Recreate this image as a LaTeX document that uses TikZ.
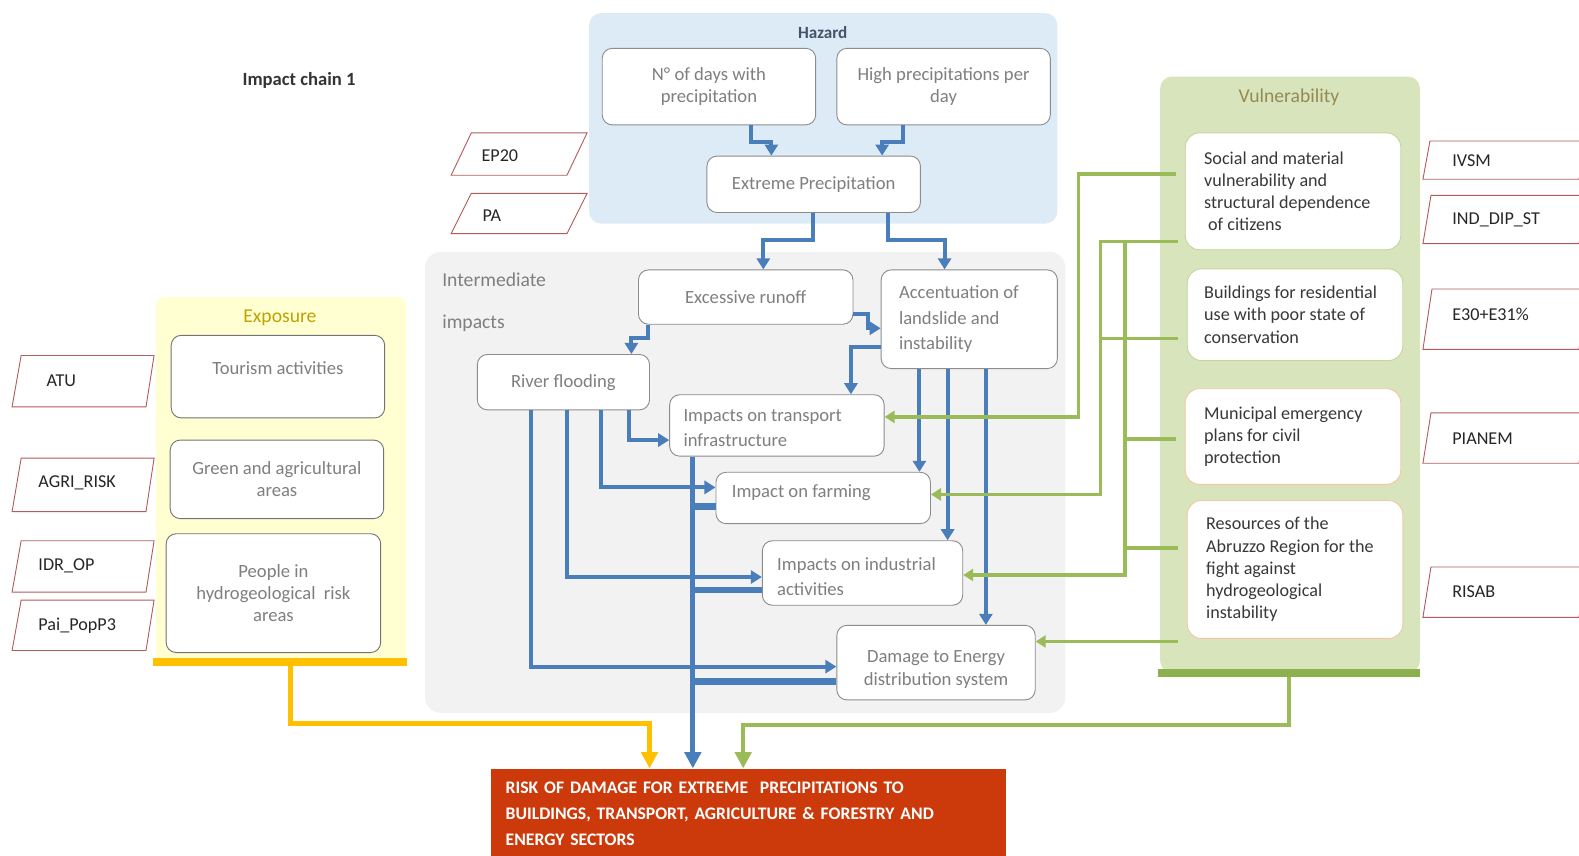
\documentclass[tikz,border=0pt]{standalone}
\usepackage{fontspec}
\setmainfont{Carlito}
\usetikzlibrary{arrows.meta,calc}

\definecolor{hazbg}{HTML}{DDEBF7}
\definecolor{midbg}{HTML}{F2F2F2}
\definecolor{expbg}{HTML}{FFFFD2}
\definecolor{vulbg}{HTML}{D8E4BC}
\definecolor{flow}{HTML}{4A7EBB}
\definecolor{vgreen}{HTML}{9BBB59}
\definecolor{vbarc}{HTML}{8DB04F}
\definecolor{egold}{HTML}{FFC000}
\definecolor{riskred}{HTML}{CC3A0C}
\definecolor{boxgray}{HTML}{8C8C8C}
\definecolor{txtgray}{HTML}{7F7F7F}
\definecolor{indred}{HTML}{B25B5B}
\definecolor{hztitle}{HTML}{44546A}
\definecolor{extitle}{HTML}{BFA300}
\definecolor{vutitle}{HTML}{948A54}
\definecolor{vline}{HTML}{C3D69B}
\definecolor{vorange}{HTML}{F4C7A1}

\begin{document}
\begin{tikzpicture}[x=1pt,y=-1pt,
  box/.style={draw=boxgray, line width=0.9pt, fill=white, rounded corners=10pt,
    inner sep=0pt, font=\fontsize{18.5}{23}\selectfont, text=txtgray, align=center},
  ebox/.style={box, draw=black!55, font=\fontsize{18.5}{22}\selectfont},
  vbox/.style={box, draw=vline, rounded corners=14pt, minimum width=214pt},
  ctext/.style={inner sep=0pt, align=center, text=txtgray, font=\fontsize{18.5}{23}\selectfont},
  ltext/.style={anchor=west, inner sep=0pt, align=left, text=txtgray, font=\fontsize{18.5}{25}\selectfont},
  vtext/.style={anchor=west, inner sep=0pt, align=left, text=black!78, font=\fontsize{18}{22}\selectfont},
  flowline/.style={draw=flow, line width=4pt},
  flowarrow/.style={flowline, -{Triangle[length=11pt,width=13pt]}},
  merge/.style={draw=flow, line width=6.5pt},
  gline/.style={draw=vgreen, line width=3.5pt},
  garrow/.style={gline, -{Triangle[length=10pt,width=12pt]}},
  bigtip/.style={-{Triangle[length=16pt,width=16pt]}},
  indline/.style={draw=indred, line width=0.9pt, fill=white},
  indtxt/.style={anchor=west, font=\fontsize{18}{20}\selectfont, text=black!85, inner sep=0pt},
  ptitle/.style={font=\fontsize{19.5}{22}\selectfont, inner sep=0pt}
]
\useasboundingbox (0,0) rectangle (1568,850);
\clip (0,0) rectangle (1568,850);

% ---------- title ----------
\node[font=\bfseries\fontsize{18.5}{20}\selectfont, text=black!80] (title) at (297,80) {Impact chain 1};

% ---------- panels ----------
\fill[hazbg, rounded corners=12pt] (585,13) rectangle (1050,222);
\fill[midbg, rounded corners=16pt] (422,250) rectangle (1058,708);
\fill[expbg, rounded corners=8pt] (155,295) rectangle (403,660);
\fill[vulbg, rounded corners=12pt] (1152,76) rectangle (1410,668);

\node[ptitle, font=\bfseries\fontsize{17}{20}\selectfont, text=hztitle] (haz) at (817,32) {Hazard};
\node[anchor=north west, align=left, text=txtgray, font=\fontsize{19.5}{41}\selectfont, inner sep=0pt]
  (midlbl) at (439,271) {Intermediate\\impacts};
\node[ptitle, text=extitle] (exptitle) at (278,316) {Exposure};
\node[ptitle, text=vutitle] (vultitle) at (1280,97) {Vulnerability};

\node[fill=egold, minimum width=252pt, minimum height=8pt, inner sep=0pt] (ebar) at (278,657) {};
\node[fill=vbarc, minimum width=260pt, minimum height=8pt, inner sep=0pt] (vbar) at (1280,668) {};

% ---------- indicator labels ----------
\draw[indline] (448,174) -- (468,132) -- (583,132) -- (563,174) -- cycle;
\node[indtxt] (ep20) at (478,155) {EP20};
\draw[indline] (448,232) -- (468,192) -- (583,192) -- (563,232) -- cycle;
\node[indtxt] (pa) at (479,214) {PA};

\draw[indline] (12,404) -- (21,353) -- (153,353) -- (145,404) -- cycle;
\node[indtxt] (atu) at (46,378) {ATU};
\draw[indline] (12,508) -- (21,455) -- (153,455) -- (145,508) -- cycle;
\node[indtxt] (agririsk) at (38,479) {AGRI\_RISK};
\draw[indline] (12,588) -- (21,537) -- (153,537) -- (145,588) -- cycle;
\node[indtxt] (idrop) at (38,562) {IDR\_OP};
\draw[indline] (12,646) -- (21,596) -- (153,596) -- (145,646) -- cycle;
\node[indtxt] (paipop) at (38,621) {Pai\_PopP3};

\draw[indline] (1413,178) -- (1420,140) -- (1575,140) -- (1568,178) -- cycle;
\node[indtxt] (ivsm) at (1442,160) {IVSM};
\draw[indline] (1413,242) -- (1421,194) -- (1575,194) -- (1568,242) -- cycle;
\node[indtxt] (inddip) at (1442,218) {IND\_DIP\_ST};
\draw[indline] (1413,347) -- (1422,287) -- (1575,287) -- (1568,347) -- cycle;
\node[indtxt] (e30) at (1442,312) {E30+E31\%};
\draw[indline] (1413,460) -- (1421,410) -- (1575,410) -- (1568,460) -- cycle;
\node[indtxt] (pianem) at (1442,436) {PIANEM};
\draw[indline] (1413,613) -- (1421,563) -- (1575,563) -- (1568,613) -- cycle;
\node[indtxt] (risab) at (1442,588) {RISAB};

% ---------- hazard boxes ----------
\node[box, minimum width=212pt, minimum height=76pt, font=\fontsize{18.5}{22}\selectfont] (ndays) at (704,86) {N° of days with\\precipitation};
\node[box, minimum width=212pt, minimum height=76pt, font=\fontsize{18.5}{22}\selectfont] (hpd) at (937,86) {High precipitations per\\day};
\node[box, minimum width=212pt, minimum height=56pt] (xp) at (808,183) {Extreme Precipitation};

% ---------- intermediate impacts ----------
\node[box, minimum width=213pt, minimum height=54pt] (runoff) at (740.5,295) {Excessive runoff};
\node[box, minimum width=175pt, minimum height=98pt] (slide) at (962.5,317) {};
\node[ltext] (slidetxt) at ([xshift=18pt]slide.west) {Accentuation of\\landslide and\\instability};
\node[box, minimum width=171pt, minimum height=55pt] (flood) at (559.5,379.5) {River flooding};
\node[box, minimum width=213pt, minimum height=61pt] (trans) at (771.5,422.5) {};
\node[ltext] (transtxt) at ([xshift=14pt,yshift=-2.5pt]trans.west) {Impacts on transport\\infrastructure};
\node[box, minimum width=213pt, minimum height=51pt] (farm) at (817.5,494.5) {};
\node[ltext] (farmtxt) at ([xshift=16pt,yshift=5pt]farm.west) {Impact on farming};
\node[box, minimum width=199pt, minimum height=64pt] (indus) at (856.5,569) {};
\node[ltext] (industxt) at ([xshift=15pt,yshift=-3.5pt]indus.west) {Impacts on industrial\\activities};
\node[box, minimum width=197pt, minimum height=74pt] (energy) at (929.5,658) {};
\node[ctext] (energytxt) at ([yshift=-7pt]energy.center) {Damage to Energy\\distribution system};

% ---------- exposure ----------
\node[ebox, minimum width=212pt, minimum height=82pt] (tour) at (276,374) {};
\node[ctext] (tourtxt) at ([yshift=8pt]tour.center) {Tourism activities};
\node[ebox, minimum width=212pt, minimum height=78pt] (agri) at (275,476) {Green and agricultural\\areas};
\node[ebox, minimum width=213pt, minimum height=118pt] (people) at (271.5,589) {People in\\hydrogeological\ \ risk\\areas};

% ---------- vulnerability ----------
\node[vbox, minimum height=116pt] (social) at (1284,190) {};
\node[vtext] (socialtxt) at ([xshift=19pt]social.west)
  {Social and material\\vulnerability and\\structural dependence\\\hspace*{4pt}of citizens};
\node[vbox, minimum height=91pt] (bldg) at (1286,312.5) {};
\node[vtext] (bldgtxt) at ([xshift=17pt]bldg.west)
  {Buildings for residential\\use with poor state of\\conservation};
\node[vbox, draw=vorange, minimum height=95pt] (plans) at (1284,433.5) {};
\node[vtext] (planstxt) at ([xshift=19pt]plans.west)
  {Municipal emergency\\plans for civil\\protection};
\node[vbox, draw=vorange, minimum height=137pt] (funds) at (1286,565.5) {};
\node[vtext] (fundstxt) at ([xshift=19pt]funds.west)
  {Resources of the\\Abruzzo Region for the\\fight against\\hydrogeological\\instability};

% ---------- final risk ----------
\node[fill=riskred, anchor=north west, minimum height=90pt, text width=482pt, inner xsep=15pt,
  align=left, text=white, font=\bfseries\fontsize{17.5}{26}\selectfont] (risk) at (487,763)
  {RISK OF DAMAGE FOR EXTREME \ PRECIPITATIONS TO\\BUILDINGS, TRANSPORT, AGRICULTURE \& FORESTRY AND\\ENERGY SECTORS};

% ---------- hazard flows ----------
\draw[flowarrow] (ndays.south -| 746,0) |- (766,141) -- (xp.north -| 766,0);
\draw[flowarrow] (hpd.south -| 897,0) |- (876,141) -- (xp.north -| 876,0);
\draw[flowarrow] (xp.south -| 807,0) |- (758,238) -- (runoff.north -| 758,0);
\draw[flowarrow] (xp.south -| 882,0) |- (938,238) -- (slide.north -| 938,0);

% ---------- intermediate flows ----------
\draw[flowarrow] (runoff.south -| 643,0) |- (627,336) -- (flood.north -| 627,0);
\draw[flowarrow] (runoff.east |- 0,312) -| (862,326) -- (slide.west |- 0,326);
\draw[flowarrow] (slide.west |- 0,345) -| (trans.north -| 845,0);
\draw[flowarrow] (slide.south -| 913,0) -- (farm.north -| 913,0);
\draw[flowarrow] (slide.south -| 941,0) -- (indus.north -| 941,0);
\draw[flowarrow] (slide.south -| 979,0) -- (energy.north -| 979,0);
\draw[flowarrow] (flood.south -| 625,0) |- (trans.west |- 0,437);
\draw[flowarrow] (flood.south -| 597,0) |- (farm.west |- 0,484);
\draw[flowarrow] (flood.south -| 563,0) |- (indus.west |- 0,573);
\draw[flowarrow] (flood.south -| 527,0) |- (energy.west |- 0,662);

\coordinate (trunk) at (688,0);
\draw[merge] (farm.west |- 0,503) -- (trunk |- 0,503);
\draw[merge] (indus.west |- 0,586) -- (trunk |- 0,586);
\draw[merge] (energy.west |- 0,677) -- (trunk |- 0,677);
\draw[flowline, line width=5pt, bigtip] (trans.south -| trunk) -- (risk.north -| trunk);

% ---------- vulnerability links ----------
\coordinate (g1) at (1071,0);
\coordinate (g2) at (1093,0);
\coordinate (g3) at (1117,0);
\draw[garrow, shorten <=9pt] (social.west |- 0,173) -| (g1 |- 0,414) -- (trans.east |- 0,414);
\draw[garrow, shorten <=7pt] (social.west |- 0,240) -| (g2 |- 0,491) -- (farm.east |- 0,491);
\draw[garrow] (g3 |- 0,240) |- (indus.east |- 0,571);
\draw[gline, shorten <=9pt] (bldg.west |- 0,336) -- (g2 |- 0,336);
\draw[gline, shorten <=9pt] (plans.west |- 0,436) -- (g3 |- 0,436);
\draw[gline, shorten <=9pt] (funds.west |- 0,544) -- (g3 |- 0,544);
\draw[garrow, shorten <=9pt] (funds.west |- 0,637) -- (energy.east |- 0,637);

% ---------- into the final risk ----------
\draw[draw=egold, line width=5pt, bigtip] (ebar.south -| 288,0) |- (645,718) -- (risk.north -| 645,0);
\draw[draw=vgreen, line width=4.5pt, bigtip] (vbar.south) |- (738,720) -- (risk.north -| 738,0);

\end{tikzpicture}
\end{document}
